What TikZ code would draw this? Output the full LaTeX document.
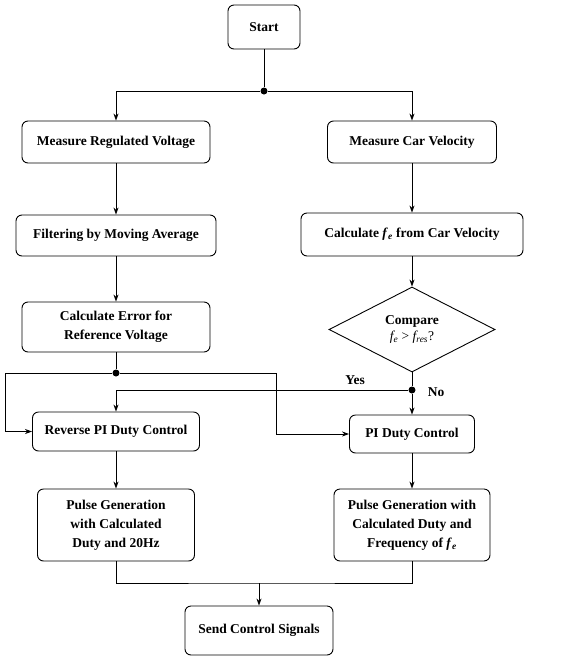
\documentclass[tikz,border=0pt]{standalone}
\usepackage{fontspec}
\setmainfont{Liberation Serif}
\usepackage{tikz}
\usetikzlibrary{arrows.meta,shapes.geometric}
\usepackage{xcolor}

\newcommand{\fe}{\textit{f}\textsubscript{\textit{e}}}

\begin{document}
\begin{tikzpicture}[x=1pt, y=-1pt, >={Stealth[length=7pt,width=5pt]},
    every node/.style={font=\fontsize{13.5}{19}\selectfont\bfseries},
    box/.style={draw, line width=0.9pt, rounded corners=6pt, align=center, inner sep=0pt},
    cond/.style={draw, line width=0.9pt, diamond, align=center, inner sep=0pt},
    link/.style={line width=0.8pt},
    dot/.style={circle, fill=black, inner sep=0pt, minimum size=7pt}]
        \useasboundingbox (0,0) rectangle (584,657);
        % boxes
        \node [box, minimum width=72pt, minimum height=44pt] (start) at (264, 27) {Start};
        \node [box, minimum width=188pt, minimum height=42pt] (mvolt) at (116, 142) {Measure Regulated Voltage};
        \node [box, minimum width=169pt, minimum height=42pt] (mvel) at (412, 142) {Measure Car Velocity};
        \node [box, minimum width=200pt, minimum height=41pt] (filt) at (116, 235.5) {Filtering by Moving Average};
        \node [box, minimum width=222pt, minimum height=43pt] (calcf) at (412, 234.5) {Calculate \fe{} from Car Velocity};
        \node [box, minimum width=188pt, minimum height=50pt] (calcerr) at (116, 327) {Calculate Error for\\Reference Voltage};
        \node [cond, minimum width=166pt, minimum height=85pt] (cmp) at (412, 329.5)
            {Compare\\[-3pt]{\mdseries\itshape f\textsubscript{e}\upshape{} > \itshape f\textsubscript{res}\upshape ?}};
        \node [box, minimum width=167pt, minimum height=39pt] (rpi) at (116, 431.5) {Reverse PI Duty Control};
        \node [box, minimum width=125pt, minimum height=38pt] (pi) at (412, 434) {PI Duty Control};
        \node [box, minimum width=157pt, minimum height=72pt] (pgl) at (116, 525) {Pulse Generation\\with Calculated\\Duty and 20Hz};
        \node [box, minimum width=156pt, minimum height=72pt] (pgr) at (412, 525) {Pulse Generation with\\Calculated Duty and\\Frequency of \fe};
        \node [box, minimum width=148pt, minimum height=49pt] (send) at (259, 630.5) {Send Control Signals};
        % junctions
        \node [dot] (jtop) at (264, 91) {};
        \node [dot] (jerr) at (116, 373) {};
        \node [dot] (jcmp) at (412, 390) {};
        \coordinate (lft) at (5, 373);
        \coordinate (mid) at (276, 373);
        \coordinate (yes) at (116, 390);
        \coordinate (mrg) at (259, 583);
        % connectors
        \draw [link] (start) -- (jtop);
        \draw [link, ->] (jtop) -| (mvolt.north);
        \draw [link, ->] (jtop) -| (mvel.north);
        \draw [link, ->] (mvolt) -- (filt);
        \draw [link, ->] (filt) -- (calcerr);
        \draw [link, ->] (mvel) -- (calcf);
        \draw [link, ->] (calcf) -- (cmp);
        \draw [link] (calcerr) -- (jerr);
        \draw [link, ->] (jerr) -- (lft) |- (rpi.west);
        \draw [link, ->] (jerr) -- (mid) |- (pi.west);
        \draw [link] (cmp) -- (jcmp);
        \draw [link, ->] (jcmp) -- (pi);
        \draw [link, ->] (jcmp) -- (yes) -- (rpi.north);
        \draw [link, ->] (rpi) -- (pgl);
        \draw [link, ->] (pi) -- (pgr);
        \draw [link] (pgl.south) |- (mrg) -| (pgr.south);
        \draw [link, ->] (mrg) -- (send);
        \node (lyes) at (355, 380) {Yes};
        \node (lno) at (436, 392) {No};
    \end{tikzpicture}
\end{document}
